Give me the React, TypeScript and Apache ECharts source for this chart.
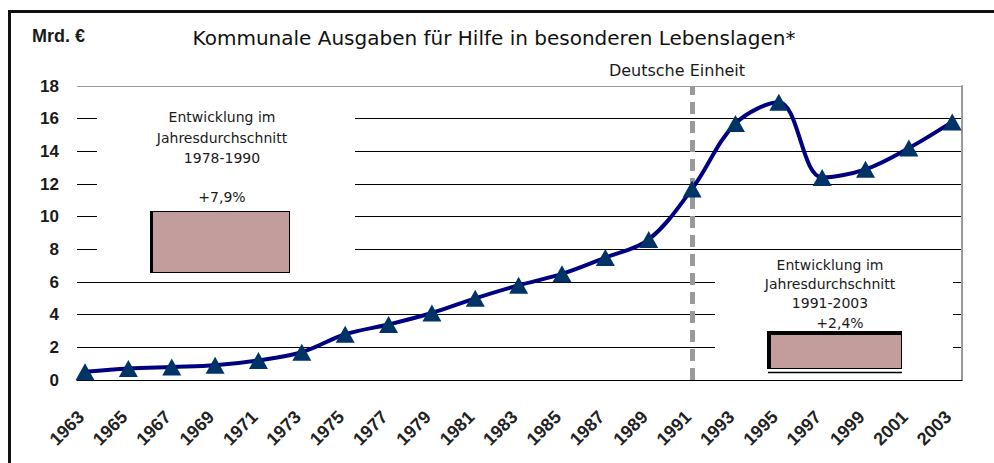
import React, { useEffect, useRef } from "react";
import * as echarts from "echarts";

const years = [1963, 1965, 1967, 1969, 1971, 1973, 1975, 1977, 1979, 1981, 1983, 1985, 1987, 1989, 1991, 1993, 1995, 1997, 1999, 2001, 2003];
const spending = [0.5, 0.7, 0.8, 0.9, 1.2, 1.7, 2.8, 3.4, 4.1, 5.0, 5.8, 6.5, 7.5, 8.6, 11.7, 15.7, 17.0, 12.4, 12.9, 14.2, 15.8];
const yMin = 0;
const yMax = 18;
const yStep = 2;
const unificationYear = 1991;
const unificationLabel = "Deutsche Einheit";
const titleText = "Kommunale Ausgaben für Hilfe in besonderen Lebenslagen*";
const unitText = "Mrd. €";
const leftBoxLines = ["Entwicklung im", "Jahresdurchschnitt", "1978-1990"];
const leftBoxRate = "+7,9%";
const rightBoxLines = ["Entwicklung im", "Jahresdurchschnitt", "1991-2003"];
const rightBoxRate = "+2,4%";

const TXT = "#1a1a1a";
const ROSE = "#c39c9c";
const SANS = "'DejaVu Sans', 'Liberation Sans', sans-serif";
const ARIAL = "'Liberation Sans', Arial, sans-serif";

function txt(text: string, x: number, y: number, size: number, opts: any = {}) {
  return {
    type: "text",
    z: 5,
    x,
    y,
    rotation: opts.rotation || 0,
    style: {
      text,
      x: 0,
      y: 0,
      fill: opts.fill || TXT,
      fontSize: size,
      fontFamily: opts.family || SANS,
      fontWeight: opts.weight || "normal",
      align: opts.align || "center",
      textAlign: opts.align || "center",
      verticalAlign: "middle",
      textVerticalAlign: "middle",
    },
  };
}

export default function App() {
  const ref = useRef<HTMLDivElement>(null);
  useEffect(() => {
    if (!ref.current) return;
    const chart = echarts.init(ref.current, null, { renderer: "svg" });
    const gridColors = [];
    for (let v = yMin; v <= yMax; v += yStep) gridColors.push(v === yMax ? "#9a9a9a" : "#000");

    chart.setOption({
      animation: false,
      backgroundColor: "#fff",
      grid: { left: 77, right: 32, top: 86, bottom: 83, containLabel: false },
      xAxis: {
        type: "value",
        min: 1962.63,
        max: 2003.45,
        axisLine: { show: true, lineStyle: { color: "#000", width: 1 } },
        axisTick: { show: false },
        splitLine: { show: false },
        axisLabel: { show: false },
      },
      yAxis: [
        {
          type: "value",
          min: yMin,
          max: yMax,
          interval: yStep,
          axisLine: { show: false },
          axisTick: { show: false },
          axisLabel: { color: TXT, fontSize: 17, fontWeight: "bold", fontFamily: ARIAL, margin: 18 },
          splitLine: { show: true, lineStyle: { color: gridColors, width: 1 } },
        },
        {
          type: "value",
          position: "right",
          min: yMin,
          max: yMax,
          interval: yStep,
          axisLine: { show: true, lineStyle: { color: "#9a9a9a", width: 2 } },
          axisTick: { show: false },
          axisLabel: { show: false },
          splitLine: { show: false },
        },
      ],
      series: [
        {
          type: "line",
          z: 10,
          data: years.map((y, i) => [y, spending[i]]),
          smooth: 0.35,
          lineStyle: { color: "#000080", width: 4 },
          symbol: "triangle",
          symbolSize: [19, 17],
          itemStyle: { color: "#003366" },
          markLine: {
            silent: true,
            symbol: "none",
            z: 4,
            label: { show: false },
            lineStyle: { color: "#9a9a9a", width: 5, type: [12, 7] },
            data: [{ xAxis: unificationYear }],
          },
        },
      ],
    });

    const axisY = chart.convertToPixel({ yAxisIndex: 0 }, yMin) as number;
    const yearLabels = years.map((yr) =>
      txt(String(yr), (chart.convertToPixel({ xAxisIndex: 0 }, yr) as number) - 4, axisY + 34, 18, {
        align: "right",
        weight: "bold",
        family: ARIAL,
        rotation: Math.PI / 4,
        fill: "#222",
      })
    );

    const graphics: any[] = [
      { type: "rect", z: 6, shape: { x: 9.5, y: 11.5, width: 1000, height: 500 }, style: { fill: "none", stroke: "#111", lineWidth: 3 } },
      txt(unitText, 32, 36, 18, { align: "left", weight: "bold", family: ARIAL }),
      txt(titleText, 494, 38, 20, { fill: "#111" }),
      txt(unificationLabel, 677, 70, 16),
      // left info box
      { type: "rect", z: 1, shape: { x: 97, y: 94, width: 258, height: 180 }, style: { fill: "#fff" } },
      txt(leftBoxLines[0], 222, 117, 14),
      txt(leftBoxLines[1], 222, 138, 14),
      txt(leftBoxLines[2], 222, 158, 14),
      txt(leftBoxRate, 222, 197, 14),
      { type: "rect", z: 2, shape: { x: 150, y: 211, width: 140, height: 62 }, style: { fill: "#000" } },
      { type: "rect", z: 3, shape: { x: 153, y: 212, width: 136, height: 60 }, style: { fill: ROSE } },
      // right info box
      { type: "rect", z: 1, shape: { x: 715, y: 256, width: 238, height: 121 }, style: { fill: "#fff" } },
      txt(rightBoxLines[0], 830, 265, 14),
      txt(rightBoxLines[1], 830, 284, 14),
      txt(rightBoxLines[2], 830, 303, 14),
      txt(rightBoxRate, 840, 323, 14),
      { type: "rect", z: 2, shape: { x: 767, y: 331, width: 135, height: 38 }, style: { fill: "#000" } },
      { type: "rect", z: 3, shape: { x: 771, y: 335, width: 130, height: 33 }, style: { fill: ROSE } },
      { type: "line", z: 3, shape: { x1: 768, y1: 372.5, x2: 902, y2: 372.5 }, style: { stroke: "#000", lineWidth: 1.5 } },
      ...yearLabels,
    ];
    chart.setOption({ graphic: graphics });
    return () => chart.dispose();
  }, []);
  return <div ref={ref} style={{ position: "fixed", left: 0, top: 0, width: 994, height: 463 }} />;
}
